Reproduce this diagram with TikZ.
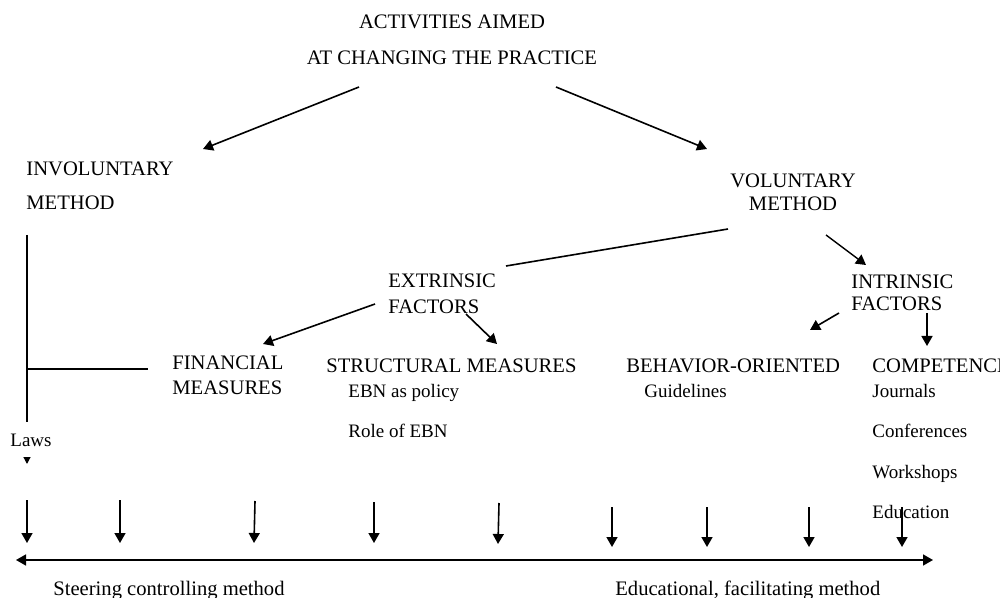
\documentclass[tikz,border=0pt]{standalone}
\usepackage{fontspec}
\setmainfont{Liberation Serif}
\usetikzlibrary{arrows.meta}
\tikzset{
  head/.style={font=\fontsize{10.3}{12}\selectfont, inner sep=0pt, anchor=base west},
  item/.style={font=\fontsize{9.5}{11}\selectfont, inner sep=0pt, anchor=base west},
  arr/.style={-{Triangle[length=5pt,width=5.5pt]}, line width=0.8pt},
  bar/.style={line width=0.8pt},
}

\begin{document}
\begin{tikzpicture}[x=0.5pt,y=-0.5pt]
  \useasboundingbox (0,0) rectangle (1000,598);
  % titles and labels
  \node[head, anchor=base] (act1) at (452,29) {ACTIVITIES AIMED};
  \node[head, anchor=base] (act2) at (452,65) {AT CHANGING THE PRACTICE};
  \node[head] (invol1) at (26,176) {INVOLUNTARY};
  \node[head] (invol2) at (26,210) {METHOD};
  \node[head, anchor=base] (vol1) at (793,188) {VOLUNTARY};
  \node[head, anchor=base] (vol2) at (793,211) {METHOD};
  \node[head] (extr1) at (388,288) {EXTRINSIC};
  \node[head] (extr2) at (388,314) {FACTORS};
  \node[head] (intr1) at (851,289) {INTRINSIC};
  \node[head] (intr2) at (851,311) {FACTORS};
  \node[head] (fin1) at (172,369) {FINANCIAL};
  \node[head] (fin2) at (172,394) {MEASURES};
  \node[head] (struct) at (326,372) {STRUCTURAL MEASURES};
  \node[item] (policy) at (348,397) {EBN as policy};
  \node[item] (role) at (348,437) {Role of EBN};
  \node[head] (behav) at (626,372) {BEHAVIOR-ORIENTED};
  \node[item] (guide) at (644,397) {Guidelines};
  \node[head] (comp) at (872,372) {COMPETENCE};
  \foreach \y/\t/\n in {397/Journals/journ, 437/Conferences/conf, 478/Workshops/works, 518/Education/educ}
    \node[item] (\n) at (872,\y) {\t};
  \node[item] (laws) at (10,446) {Laws};
  \node[head] (steer) at (53,595) {Steering controlling method};
  \node[head] (facil) at (615,595) {Educational, facilitating method};

  % connector ends
  \coordinate (act-l) at (359,87);
  \coordinate (act-r) at (556,87);
  \coordinate (invol-in) at (203,149);
  \coordinate (vol-in) at (707,149);
  \coordinate (vol-l) at (728,229);
  \coordinate (extr-in) at (506,266);
  \coordinate (vol-r) at (826,235);
  \coordinate (intr-in) at (866,265);
  \coordinate (extr-l) at (375,304);
  \coordinate (fin-in) at (263,344);
  \coordinate (extr-r) at (466,314);
  \coordinate (struct-in) at (497,344);
  \coordinate (intr-l) at (839,313);
  \coordinate (behav-in) at (810,330);
  \coordinate (intr-r) at (927,313);
  \coordinate (comp-in) at (927,346);
  \coordinate (invol-top) at (27,235);
  \coordinate (invol-bot) at (27,422);
  \coordinate (invol-mid) at (27,369);
  \coordinate (fin-l) at (148,369);
  \coordinate (laws-a) at (27,457);
  \coordinate (laws-b) at (27,464);
  \coordinate (scale-l) at (16,560);
  \coordinate (scale-r) at (933,560);

  % connectors
  \draw[arr] (act-l) -- (invol-in);
  \draw[arr] (act-r) -- (vol-in);
  \draw[bar] (vol-l) -- (extr-in);
  \draw[arr, line width=0.7pt] (vol-r) -- (intr-in);
  \draw[arr] (extr-l) -- (fin-in);
  \draw[arr] (extr-r) -- (struct-in);
  \draw[arr] (intr-l) -- (behav-in);
  \draw[arr] (intr-r) -- (comp-in);
  \draw[bar] (invol-top) -- (invol-bot);
  \draw[bar] (invol-mid) -- (fin-l);
  \draw[-{Triangle[length=3.5pt,width=3.5pt]}, line width=0.6pt] (laws-a) -- (laws-b);

  % arrows onto the scale
  \foreach \xa/\xb/\t/\b in {27/27/500/543, 120/120/500/543, 255/254/501/543, 374/374/502/543, 499/498/503/544,
                            612/612/507/547, 707/707/507/547, 809/809/507/547, 902/902/507/547}{
    \coordinate (top-\xb) at (\xa,\t);
    \coordinate (tip-\xb) at (\xb,\b);
    \draw[arr] (top-\xb) -- (tip-\xb);
  }
  \draw[{Triangle[length=5pt,width=5.5pt]}-{Triangle[length=5pt,width=5.5pt]}, line width=0.8pt] (scale-l) -- (scale-r);
\end{tikzpicture}
\end{document}
